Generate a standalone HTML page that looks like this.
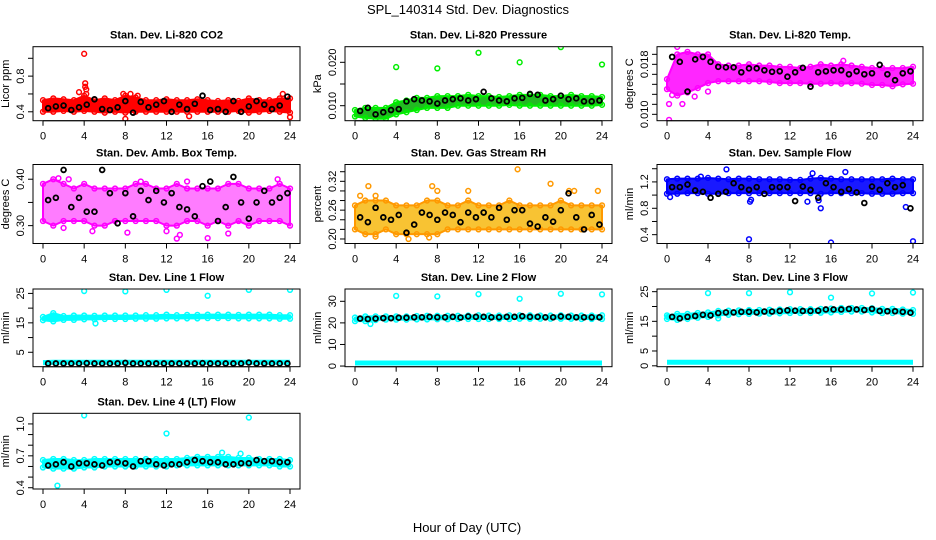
<!DOCTYPE html>
<html><head><meta charset="utf-8"><style>
html,body{margin:0;padding:0;background:#fff;}
svg{display:block;font-family:"Liberation Sans",Arial,sans-serif;}
</style></head><body>
<svg id="chart" width="936" height="540" viewBox="0 0 936 540" xmlns="http://www.w3.org/2000/svg">
<rect width="936" height="540" fill="#fff"/>
<text x="468" y="14" text-anchor="middle" font-size="13">SPL_140314  Std. Dev. Diagnostics</text>
<text x="467" y="532" text-anchor="middle" font-size="13">Hour of Day (UTC)</text>
</svg>
<script>
const hours = [0,1,2,3,4,5,6,7,8,9,10,11,12,13,14,15,16,17,18,19,20,21,22,23,24];
const bx = [0.5,1.25,2,2.75,3.5,4.25,5,5.75,6.5,7.25,8,8.75,9.5,10.25,11,11.75,12.5,13.25,14,14.75,15.5,16.25,17,17.75,18.5,19.25,20,20.75,21.5,22.25,23,23.75];
const xTicks = [0,4,8,12,16,20,24];

const co2Hi = [0.53,0.55,0.54,0.53,0.58,0.53,0.55,0.53,0.58,0.56,0.53,0.53,0.54,0.53,0.53,0.54,0.53,0.52,0.53,0.52,0.55,0.53,0.53,0.55,0.55];
const co2Lo = [0.40,0.40,0.41,0.40,0.41,0.40,0.39,0.40,0.39,0.40,0.40,0.40,0.40,0.40,0.40,0.40,0.40,0.40,0.40,0.41,0.39,0.40,0.41,0.40,0.39];
const co2OutX = [4.0,4.1,4.1,4.2,4.2,3.5,8.0,8.5,9.2,14.2,23.3,24,7.8];
const co2OutY = [1.05,0.72,0.68,0.65,0.60,0.62,0.32,0.60,0.58,0.35,0.60,0.34,0.60];
const co2Black = [0.44,0.46,0.47,0.42,0.45,0.48,0.54,0.43,0.42,0.45,0.52,0.39,0.51,0.45,0.48,0.52,0.40,0.48,0.43,0.49,0.58,0.42,0.43,0.40,0.52,0.40,0.46,0.52,0.48,0.43,0.47,0.57];

const presHi = [0.0090,0.0095,0.0095,0.0095,0.0108,0.0112,0.0118,0.0118,0.0122,0.0122,0.0122,0.0125,0.0122,0.0122,0.0120,0.0122,0.0125,0.0125,0.0125,0.0122,0.0122,0.0125,0.0122,0.0122,0.0120];
const presLo = [0.0075,0.0072,0.0070,0.0070,0.0080,0.0085,0.0090,0.0095,0.0095,0.0095,0.0100,0.0100,0.0100,0.0100,0.0100,0.0102,0.0100,0.0100,0.0100,0.0100,0.0100,0.0100,0.0100,0.0100,0.0102];
const presOutX = [4,8,12,16,20,24];
const presOutY = [0.0189,0.0186,0.0222,0.0200,0.0235,0.0195];
const presBlack = [0.0088,0.0095,0.0080,0.0085,0.0090,0.0092,0.0110,0.0115,0.0112,0.0110,0.0105,0.0112,0.0115,0.0117,0.0112,0.0115,0.0132,0.0117,0.0112,0.0110,0.0117,0.0118,0.0127,0.0125,0.0112,0.0115,0.0123,0.0115,0.0117,0.0110,0.0110,0.0112];

const tempHi = [0.01562,0.01959,0.01999,0.01959,0.01959,0.01800,0.01780,0.01780,0.01800,0.01780,0.01780,0.01760,0.01760,0.01740,0.01760,0.01800,0.01780,0.01800,0.01780,0.01760,0.01740,0.01740,0.01740,0.01740,0.01760];
const tempLo = [0.01403,0.01300,0.01350,0.01420,0.01500,0.01530,0.01530,0.01530,0.01530,0.01530,0.01520,0.01500,0.01500,0.01500,0.01490,0.01490,0.01500,0.01490,0.01500,0.01490,0.01470,0.01470,0.01450,0.01480,0.01490];
const tempOutX = [0.2,0.2,0.5,1.5,2.7,4,1,14,17.2];
const tempOutY = [0.00911,0.01165,0.01308,0.01165,0.01284,0.01364,0.02078,0.01443,0.01856];
const tempBlack = [0.01919,0.01840,0.01364,0.01880,0.01919,0.01840,0.01760,0.01752,0.01752,0.01673,0.01736,0.01736,0.01705,0.01681,0.01689,0.01602,0.01673,0.01744,0.01443,0.01673,0.01689,0.01705,0.01705,0.01641,0.01689,0.01641,0.01657,0.01792,0.01641,0.01546,0.01657,0.01689];

const boxHi = [0.39,0.40,0.39,0.38,0.39,0.38,0.38,0.38,0.38,0.39,0.39,0.38,0.38,0.39,0.38,0.38,0.38,0.38,0.39,0.39,0.38,0.38,0.38,0.39,0.38];
const boxLo = [0.31,0.30,0.31,0.31,0.31,0.30,0.30,0.31,0.31,0.31,0.31,0.31,0.30,0.30,0.31,0.31,0.30,0.31,0.30,0.31,0.30,0.31,0.31,0.31,0.30];
const boxOutX = [2,4.8,8.2,13,13.3,16,18,12,1.5,2.5,9.5,22.8,14];
const boxOutY = [0.295,0.288,0.285,0.272,0.280,0.273,0.283,0.288,0.402,0.400,0.395,0.400,0.395];
const boxBlack = [0.355,0.36,0.42,0.34,0.36,0.33,0.33,0.42,0.37,0.305,0.37,0.32,0.375,0.355,0.375,0.35,0.37,0.34,0.335,0.32,0.385,0.395,0.31,0.34,0.405,0.35,0.315,0.35,0.375,0.35,0.36,0.37];

const rhHi = [0.27,0.28,0.28,0.28,0.27,0.27,0.27,0.28,0.28,0.27,0.27,0.28,0.27,0.27,0.27,0.28,0.27,0.27,0.27,0.27,0.28,0.27,0.27,0.27,0.27];
const rhLo = [0.22,0.21,0.21,0.22,0.21,0.21,0.21,0.21,0.21,0.22,0.22,0.22,0.22,0.22,0.22,0.22,0.22,0.22,0.22,0.22,0.22,0.22,0.22,0.22,0.22];
const rhOutX = [0.5,1.3,2,7.5,8,11,15.8,19,20.8,21.3,23.6,5.2,7.2,2];
const rhOutY = [0.29,0.31,0.29,0.31,0.30,0.30,0.345,0.315,0.30,0.30,0.30,0.20,0.203,0.205];
const rhBlack = [0.245,0.235,0.265,0.245,0.24,0.25,0.213,0.23,0.255,0.25,0.24,0.255,0.25,0.235,0.255,0.245,0.255,0.245,0.265,0.24,0.26,0.26,0.232,0.226,0.245,0.236,0.26,0.295,0.245,0.22,0.25,0.23];

const flowHi = [1.24,1.25,1.25,1.25,1.26,1.25,1.24,1.25,1.25,1.24,1.24,1.24,1.23,1.23,1.25,1.26,1.25,1.24,1.24,1.24,1.24,1.24,1.25,1.24,1.24];
const flowLo = [1.02,1.02,1.03,1.03,1.02,1.02,1.03,1.03,1.03,1.03,1.03,1.03,1.03,1.03,1.03,1.02,1.03,1.03,1.03,1.03,1.02,1.02,1.02,1.03,1.03];
const flowOutX = [0.3,5.8,8,8.1,8.2,13.7,14.2,15,14.8,16,17.4,23.3,24,3.3];
const flowOutY = [0.97,1.39,0.33,0.90,0.93,0.90,1.33,0.80,0.92,0.28,1.35,0.82,0.30,1.28];
const flowBlack = [1.12,1.12,1.16,1.07,1.05,0.96,1.02,1.05,1.18,1.12,1.08,1.12,1.02,1.12,1.12,1.12,0.91,1.13,1.08,0.96,1.18,1.12,1.05,1.09,1.04,0.88,1.13,1.08,1.18,1.12,1.15,0.80];

const l1Hi = [17.0,18.3,17.3,17.5,17.5,17.4,17.5,17.5,17.5,17.5,17.6,17.6,17.8,17.6,17.7,17.7,17.8,17.8,17.8,17.7,17.8,17.8,17.8,17.6,17.6];
const l1Lo = [15.9,15.5,16.0,16.0,16.2,16.2,16.3,16.3,16.3,16.4,16.4,16.4,16.5,16.5,16.5,16.5,16.6,16.6,16.6,16.5,16.5,16.5,16.5,16.4,16.4];
const l1Low = [1.5,1.6,1.6,1.6,1.6,1.6,1.6,1.6,1.6,1.6,1.6,1.6,1.6,1.6,1.6,1.6,1.6,1.6,1.6,1.6,1.6,1.6,1.6,1.6,1.6];
const l1OutX = [4,8,12,16,20,24,5.1];
const l1OutY = [25.8,25.7,26.2,24.2,26.2,26.2,14.8];
const l1Black = [1.2,1.2,1.2,1.2,1.2,1.3,1.2,1.2,1.2,1.2,1.4,1.2,1.2,1.2,1.2,1.2,1.2,1.2,1.2,1.2,1.3,1.2,1.2,1.2,1.2,1.2,1.5,1.2,1.2,1.2,1.2,1.2];

const l2Hi = [22.5,23.0,23.0,23.0,23.0,23.0,23.2,23.3,23.3,23.3,23.3,23.4,23.5,23.4,23.4,23.5,23.5,23.5,23.4,23.4,23.5,23.4,23.4,23.4,23.5];
const l2Lo = [20.8,20.8,21.3,21.5,21.5,21.5,21.6,21.6,21.7,21.7,21.8,21.8,21.8,21.8,21.8,21.8,21.9,21.9,21.9,21.9,21.9,21.9,21.8,21.8,21.8];
const l2Low = [1.4,1.4,1.4,1.4,1.4,1.4,1.4,1.4,1.4,1.4,1.4,1.4,1.4,1.4,1.4,1.4,1.4,1.4,1.4,1.4,1.4,1.4,1.4,1.4,1.4];
const l2OutX = [4,8,12,16,20,24,1.5];
const l2OutY = [32.5,32.3,33.3,31.2,33.5,33.2,19.5];
const l2Black = [22.0,21.8,22.0,22.2,22.2,22.4,22.4,22.6,22.6,22.8,22.6,22.6,22.8,22.5,23.0,22.8,22.8,22.6,22.6,22.8,22.8,23.1,22.8,22.8,22.6,22.6,23.0,22.8,22.6,22.6,22.6,22.6];

const l3Hi = [17.0,17.5,17.5,17.8,18.0,18.5,18.6,18.7,18.8,18.8,18.9,19.0,19.1,19.1,19.1,19.2,19.3,19.5,19.5,19.5,19.4,19.2,19.2,19.0,18.8];
const l3Lo = [15.8,15.5,15.8,16.2,16.5,17.0,17.2,17.4,17.5,17.6,17.6,17.7,17.8,17.8,17.8,17.9,18.0,18.2,18.3,18.3,18.0,17.8,17.8,17.6,17.5];
const l3Low = [1.2,1.2,1.2,1.2,1.2,1.2,1.2,1.2,1.2,1.2,1.2,1.2,1.2,1.2,1.2,1.2,1.2,1.2,1.2,1.2,1.2,1.2,1.2,1.2,1.2];
const l3OutX = [4,8,12,16,20,24,5,0.1];
const l3OutY = [24.5,24.5,24.8,23.0,24.4,24.7,16.0,16.5];
const l3Black = [16.5,16.0,16.5,16.8,17.2,17.0,17.8,18.0,18.0,18.2,18.2,18.0,18.3,18.3,18.5,18.7,18.6,18.5,18.5,18.6,19.0,19.0,19.0,19.2,19.0,18.8,19.2,18.5,18.4,18.4,18.2,17.9];

const l4Hi = [0.66,0.67,0.67,0.66,0.66,0.67,0.67,0.67,0.67,0.67,0.67,0.67,0.67,0.67,0.68,0.69,0.69,0.69,0.69,0.68,0.68,0.67,0.67,0.67,0.66];
const l4Lo = [0.59,0.58,0.58,0.58,0.59,0.59,0.60,0.60,0.60,0.60,0.60,0.60,0.60,0.61,0.61,0.61,0.61,0.61,0.61,0.61,0.61,0.61,0.61,0.60,0.60];
const l4OutX = [4,20,12,1.4,17.4,19.2];
const l4OutY = [1.08,1.06,0.91,0.42,0.73,0.72];
const l4Black = [0.61,0.62,0.64,0.60,0.63,0.63,0.62,0.61,0.64,0.64,0.63,0.60,0.65,0.65,0.62,0.61,0.62,0.62,0.64,0.66,0.65,0.64,0.64,0.62,0.62,0.63,0.63,0.66,0.65,0.65,0.64,0.64];

const NS = 'http://www.w3.org/2000/svg';
const svg = document.getElementById('chart');
const colX0 = [43,355,667], colX24 = [290,602,913];
const rowTop = [46.7,164.5,289,413.3], rowBot = [120.7,243.5,366.7,489];

function mk(tag, attrs, parent){ const e=document.createElementNS(NS,tag); for(const k in attrs) e.setAttribute(k,attrs[k]); (parent||svg).appendChild(e); return e; }

const panels = [
 {key:'co2',c:0,r:0,title:'Stan. Dev. Li-820 CO2',ylab:'Licor ppm',y0:0.30,y1:1.13,ticks:[0.4,0.6,0.8,1.0],labels:['0.4','','0.8',''],col:'#ff0000',fill:'#ff0000',op:1,hi:co2Hi,lo:co2Lo,ox:co2OutX,oy:co2OutY,blk:co2Black},
 {key:'pressure',c:1,r:0,title:'Stan. Dev. Li-820 Pressure',ylab:'kPa',y0:0.00654,y1:0.0236,ticks:[0.010,0.015,0.020],labels:['0.010','','0.020'],col:'#00ee00',fill:'#22bb22',op:1,hi:presHi,lo:presLo,ox:presOutX,oy:presOutY,blk:presBlack},
 {key:'temp',c:2,r:0,title:'Stan. Dev. Li-820 Temp.',ylab:'degrees C',y0:0.00898,y1:0.02082,ticks:[0.0100,0.0116,0.0132,0.0148,0.0164,0.0180,0.0196],labels:['0.010','','','','','0.018',''],col:'#ff00ff',fill:'#ff00ff',op:0.85,hi:tempHi,lo:tempLo,ox:tempOutX,oy:tempOutY,blk:tempBlack},
 {key:'box-temp',c:0,r:1,title:'Stan. Dev. Amb. Box Temp.',ylab:'degrees C',y0:0.2615,y1:0.4317,ticks:[0.30,0.35,0.40],labels:['0.30','','0.40'],col:'#ff00ff',fill:'#ff44ff',op:0.7,hi:boxHi,lo:boxLo,ox:boxOutX,oy:boxOutY,blk:boxBlack},
 {key:'rh',c:1,r:1,title:'Stan. Dev. Gas Stream RH',ylab:'percent',y0:0.1906,y1:0.355,ticks:[0.20,0.22,0.24,0.26,0.28,0.30,0.32,0.34],labels:['0.20','','','0.26','','','0.32',''],col:'#ff9900',fill:'#f6b400',op:0.8,hi:rhHi,lo:rhLo,ox:rhOutX,oy:rhOutY,blk:rhBlack},
 {key:'sample-flow',c:2,r:1,title:'Stan. Dev. Sample Flow',ylab:'ml/min',y0:0.266,y1:1.464,ticks:[0.4,0.6,0.8,1.0,1.2,1.4],labels:['0.4','','0.8','','1.2',''],col:'#0000ff',fill:'#0000ff',op:0.9,hi:flowHi,lo:flowLo,ox:flowOutX,oy:flowOutY,blk:flowBlack},
 {key:'line1',c:0,r:2,title:'Stan. Dev. Line 1 Flow',ylab:'ml/min',y0:0.1,y1:26.5,ticks:[0,5,10,15,20,25],labels:['','5','','15','','25'],col:'#00ffff',fill:'#00ffff',op:1,hi:l1Hi,lo:l1Lo,low:l1Low,ox:l1OutX,oy:l1OutY,blk:l1Black},
 {key:'line2',c:1,r:2,title:'Stan. Dev. Line 2 Flow',ylab:'ml/min',y0:-0.3,y1:35.7,ticks:[0,10,20,30],labels:['0','10','20','30'],col:'#00ffff',fill:'#00ffff',op:1,hi:l2Hi,lo:l2Lo,low:l2Low,ox:l2OutX,oy:l2OutY,blk:l2Black},
 {key:'line3',c:2,r:2,title:'Stan. Dev. Line 3 Flow',ylab:'ml/min',y0:-0.3,y1:25.9,ticks:[0,5,10,15,20,25],labels:['0','5','','15','','25'],col:'#00ffff',fill:'#00ffff',op:1,hi:l3Hi,lo:l3Lo,low:l3Low,ox:l3OutX,oy:l3OutY,blk:l3Black},
 {key:'line4',c:0,r:3,title:'Stan. Dev. Line 4 (LT) Flow',ylab:'ml/min',y0:0.388,y1:1.10,ticks:[0.4,0.5,0.6,0.7,0.8,0.9,1.0],labels:['0.4','','','0.7','','','1.0'],col:'#00ffff',fill:'#00ffff',op:1,hi:l4Hi,lo:l4Lo,ox:l4OutX,oy:l4OutY,blk:l4Black}
];

panels.forEach(p=>{
  const x0=colX0[p.c], x24=colX24[p.c], top=rowTop[p.r], bot=rowBot[p.r];
  const left=x0-10, right=x24+10;
  const X=h=>x0+(x24-x0)*h/24;
  const Y=v=>bot-(v-p.y0)/(p.y1-p.y0)*(bot-top);
  const g=mk('g',{});
  
  
  const cp=mk('clipPath',{id:'clip-'+p.key},g);
  mk('rect',{x:left,y:top,width:right-left,height:bot-top},cp);
  const t=mk('text',{x:(left+right)/2,y:top-8,'text-anchor':'middle','font-size':'11','font-weight':'bold'},g);
  t.textContent=p.title;
  
  
  const data=mk('g',{'clip-path':'url(#clip-'+p.key+')'},g);
  
  
  let pts=hours.map((h,i)=>X(h)+','+Y(p.hi[i])).concat(hours.slice().reverse().map((h,j)=>{const i=hours.length-1-j;return X(h)+','+Y(p.lo[i]);}));
  const band=mk('polygon',{points:pts.join(' '),fill:p.fill,'fill-opacity':p.op,stroke:p.col,'stroke-width':'2','stroke-linejoin':'round'},data);
  
  
  hours.forEach((h,i)=>{
    [p.hi[i],p.lo[i]].forEach(v=>{
      const c=mk('circle',{cx:X(h),cy:Y(v),r:2.4,fill:'none',stroke:p.col,'stroke-width':1.5},data);
      
      
    });
  });
  if(p.low){
    const lp=hours.map((h,i)=>X(h)+','+Y(p.low[i]));
    const lb=mk('polyline',{points:lp.join(' '),fill:'none',stroke:p.col,'stroke-width':5},data);
    
    
  }
  p.ox.forEach((h,i)=>{
    const c=mk('circle',{cx:X(h),cy:Y(p.oy[i]),r:2.4,fill:'none',stroke:p.col,'stroke-width':1.5},data);
    
    
  });
  bx.forEach((h,i)=>{
    const c=mk('circle',{cx:X(h),cy:Y(p.blk[i]),r:2.4,fill:'none',stroke:'#000','stroke-width':1.8},data);
    
    
  });
  const b=mk('rect',{x:left,y:top,width:right-left,height:bot-top,fill:'none',stroke:'#000','stroke-width':1},g);
  
  
  const xa=mk('g',{},g);
  
  
  mk('line',{x1:X(0),x2:X(24),y1:bot,y2:bot,stroke:'#000'},xa);
  xTicks.forEach(h=>{
    mk('line',{x1:X(h),x2:X(h),y1:bot,y2:bot+5,stroke:'#000'},xa);
    const tl=mk('text',{x:X(h),y:bot+19,'text-anchor':'middle','font-size':'11'},xa);
    tl.textContent=h;
    
    
  });
  const ya=mk('g',{},g);
  
  
  const tk=p.ticks.filter(v=>v>=p.y0&&v<=p.y1);
  mk('line',{x1:left,x2:left,y1:Y(tk[0]),y2:Y(tk[tk.length-1]),stroke:'#000'},ya);
  p.ticks.forEach((v,i)=>{
    if(v<p.y0||v>p.y1) return;
    mk('line',{x1:left-5,x2:left,y1:Y(v),y2:Y(v),stroke:'#000'},ya);
    if(p.labels[i]){
      const yl=mk('text',{x:0,y:0,'text-anchor':'middle','font-size':'11',transform:`translate(${left-9},${Y(v)}) rotate(-90)`},ya);
      yl.textContent=p.labels[i];
      
      
    }
  });
  const yt=mk('text',{x:0,y:0,'text-anchor':'middle','font-size':'11',transform:`translate(${left-24},${(top+bot)/2}) rotate(-90)`},g);
  yt.textContent=p.ylab;
  
  
});
</script>
</body></html>
